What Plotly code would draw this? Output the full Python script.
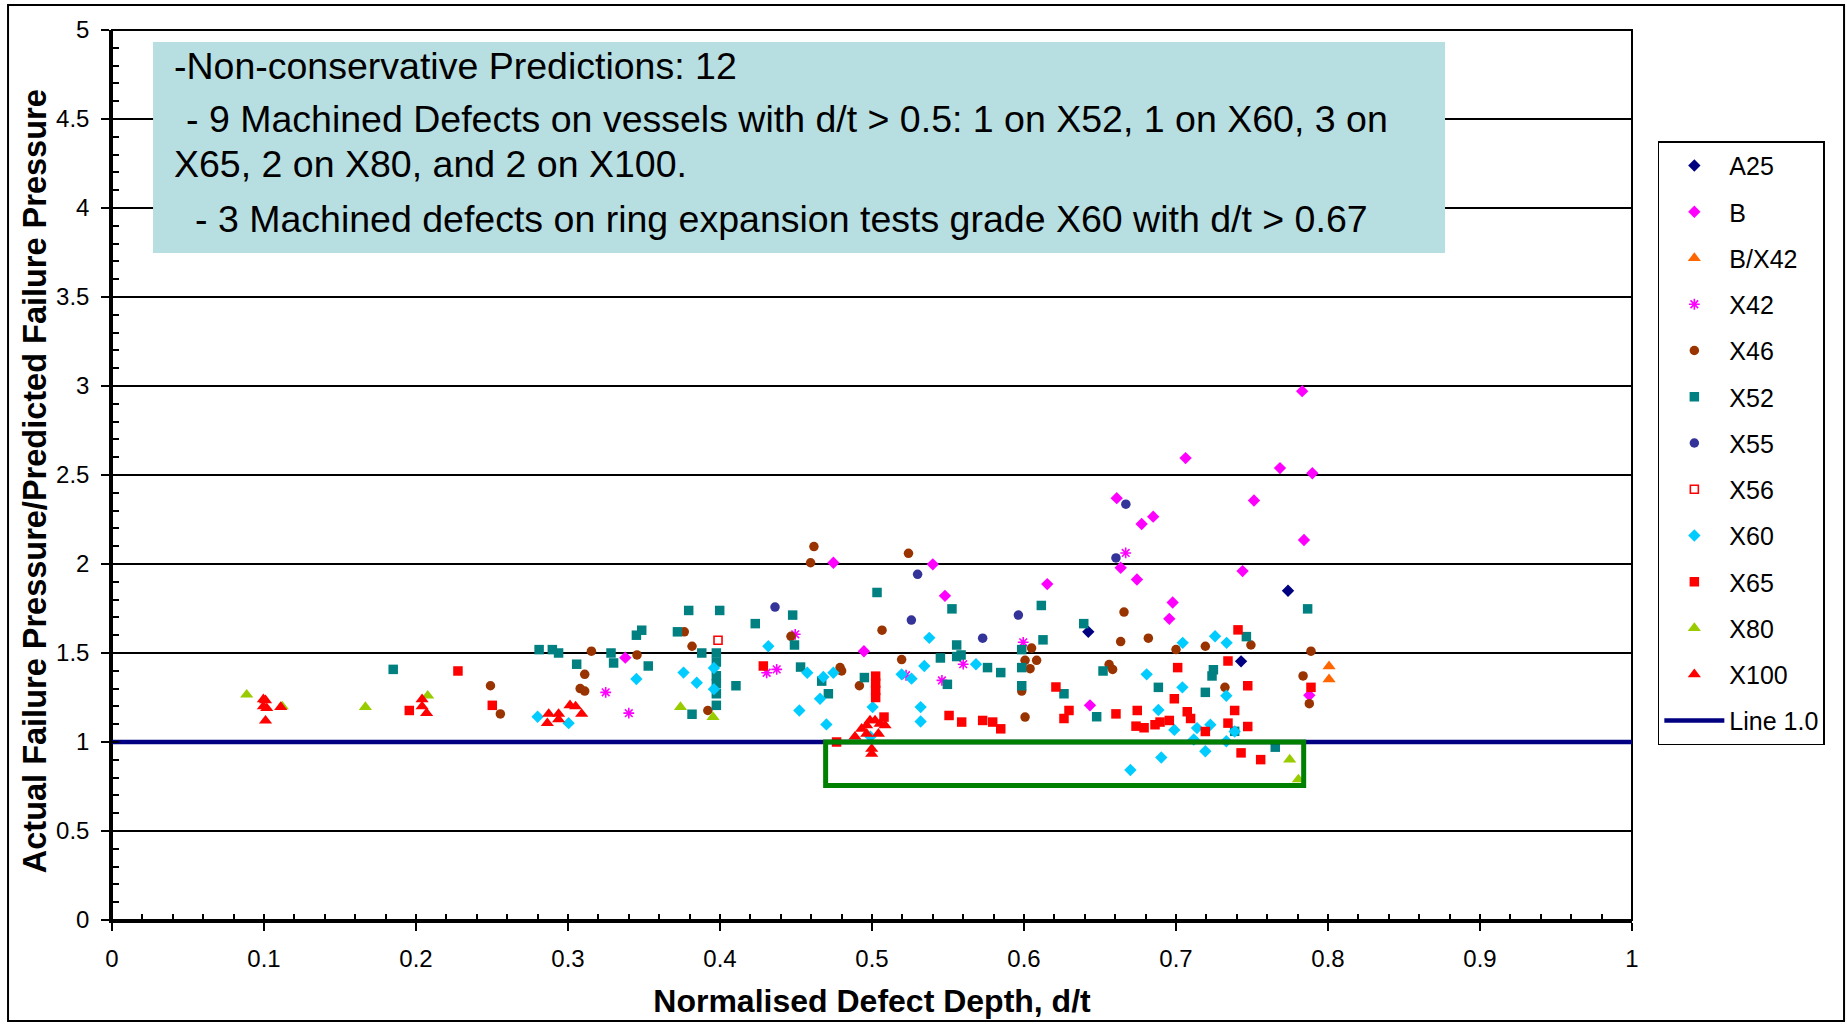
import plotly.graph_objects as go

# ---------------- data ----------------
a25_x = [0.6423, 0.7428, 0.7737]
a25_y = [1.619, 1.453, 1.850]

b_x = [0.3377, 0.4746, 0.4947, 0.540, 0.548, 0.6153, 0.6434, 0.661, 0.6636, 0.6743, 0.6774,
       0.685, 0.6956, 0.6978, 0.7063, 0.7438, 0.7513, 0.7684, 0.783, 0.7842, 0.7877, 0.7897]
b_y = [1.474, 2.007, 1.510, 1.998, 1.821, 1.887, 1.206, 2.370, 1.979, 1.913, 2.225,
       2.266, 1.692, 1.784, 2.595, 1.960, 2.357, 2.539, 2.971, 2.135, 1.262, 2.510]

bx42_x = [0.8007, 0.8007]
bx42_y = [1.425, 1.352]

x42_x = [0.3248, 0.340, 0.4307, 0.4373, 0.4495, 0.5224, 0.546, 0.560, 0.5995, 0.6669]
x42_y = [1.279, 1.162, 1.389, 1.408, 1.605, 1.375, 1.346, 1.437, 1.560, 2.062]

x46_x = [0.249, 0.2555, 0.308, 0.311, 0.311, 0.3154, 0.3454, 0.3765, 0.3816, 0.392, 0.4467,
         0.4596, 0.4618, 0.479, 0.480, 0.4917, 0.5066, 0.5195, 0.524, 0.5985, 0.6007, 0.6007,
         0.604, 0.605, 0.6083, 0.656, 0.6583, 0.6636, 0.6658, 0.6818, 0.700, 0.7193, 0.7322,
         0.7493, 0.7836, 0.7877, 0.7888]
x46_y = [1.316, 1.158, 1.300, 1.286, 1.380, 1.510, 1.489, 1.619, 1.538, 1.177, 1.594,
         2.007, 2.098, 1.418, 1.399, 1.316, 1.628, 1.463, 2.060, 1.286, 1.459, 1.140,
         1.412, 1.528, 1.459, 1.435, 1.408, 1.564, 1.730, 1.583, 1.519, 1.538, 1.307,
         1.545, 1.371, 1.215, 1.510]

x52_x = [0.185, 0.281, 0.2897, 0.2938, 0.3057, 0.3283, 0.330, 0.345, 0.3485, 0.3528, 0.372,
         0.3794, 0.3816, 0.388, 0.3976, 0.3976, 0.3976, 0.3976, 0.3976, 0.3976, 0.3998,
         0.4105, 0.4232, 0.4478, 0.449, 0.453, 0.4669, 0.4713, 0.495, 0.5033, 0.545, 0.5496,
         0.5526, 0.5557, 0.5557, 0.5586, 0.576, 0.5847, 0.5985, 0.5985, 0.5985, 0.6114,
         0.6125, 0.6263, 0.6393, 0.6478, 0.652, 0.6884, 0.7193, 0.7237, 0.7246, 0.7386,
         0.7463, 0.7653, 0.7866]
x52_y = [1.408, 1.519, 1.519, 1.500, 1.437, 1.500, 1.444, 1.600, 1.628, 1.427, 1.619,
         1.739, 1.156, 1.500, 1.500, 1.449, 1.372, 1.327, 1.271, 1.206, 1.739,
         1.316, 1.665, 1.713, 1.545, 1.421, 1.342, 1.271, 1.362, 1.840, 1.472, 1.324,
         1.748, 1.545, 1.480, 1.489, 1.418, 1.390, 1.519, 1.418, 1.316, 1.767,
         1.574, 1.271, 1.665, 1.142, 1.399, 1.307, 1.279, 1.371, 1.406, 1.060,
         1.592, 0.971, 1.748]

x55_x = [0.4362, 0.5259, 0.530, 0.5728, 0.5963, 0.6605, 0.667]
x55_y = [1.758, 1.685, 1.942, 1.583, 1.713, 2.034, 2.336]

x56_x = [0.3987]
x56_y = [1.572]

x60_x = [0.280, 0.3004, 0.345, 0.376, 0.3847, 0.396, 0.396, 0.4318, 0.4522, 0.4574, 0.4658,
         0.468, 0.470, 0.4746, 0.499, 0.5004, 0.5195, 0.526, 0.532, 0.532, 0.5344, 0.5377,
         0.5684, 0.670, 0.6807, 0.6884, 0.6903, 0.6989, 0.7042, 0.7044, 0.7117, 0.7138,
         0.7193, 0.7226, 0.7257, 0.7331, 0.7331, 0.7333, 0.7386]
x60_y = [1.142, 1.106, 1.354, 1.390, 1.333, 1.416, 1.297, 1.538, 1.177, 1.389, 1.243,
         1.365, 1.099, 1.389, 1.030, 1.196, 1.380, 1.356, 1.196, 1.115, 1.427, 1.585,
         1.437, 0.843, 1.380, 1.180, 0.913, 1.068, 1.307, 1.557, 1.014, 1.078,
         0.948, 1.097, 1.594, 1.260, 1.004, 1.557, 1.059]

x65_x = [0.1956, 0.2276, 0.2502, 0.4285, 0.4767, 0.5024, 0.5024, 0.5024, 0.5024, 0.5079,
         0.5507, 0.559, 0.5728, 0.5794, 0.5847, 0.621, 0.6263, 0.6296, 0.6605, 0.6737,
         0.6745, 0.679, 0.6862, 0.6895, 0.6956, 0.6989, 0.7011, 0.7074, 0.7096, 0.7193,
         0.7342, 0.7342, 0.7386, 0.7408, 0.7428, 0.7472, 0.7472, 0.7557, 0.7888]
x65_y = [1.177, 1.399, 1.206, 1.427, 1.000, 1.370, 1.330, 1.290, 1.250, 1.140,
         1.149, 1.112, 1.121, 1.112, 1.074, 1.309, 1.132, 1.177, 1.158, 1.089,
         1.177, 1.080, 1.097, 1.112, 1.121, 1.243, 1.418, 1.170, 1.132, 1.059,
         1.106, 1.455, 1.177, 1.630, 0.939, 1.316, 1.087, 0.901, 1.307]

x80_x = [0.0886, 0.112, 0.1667, 0.2077, 0.374, 0.3954, 0.7748, 0.7805]
x80_y = [1.266, 1.200, 1.196, 1.260, 1.196, 1.140, 0.901, 0.790]

x100_x = [0.0996, 0.101, 0.0996, 0.1018, 0.101, 0.111, 0.204, 0.204, 0.207, 0.2873, 0.2864,
          0.2938, 0.2938, 0.3013, 0.305, 0.309, 0.4888, 0.4932, 0.4965, 0.4965, 0.4987,
          0.502, 0.5042, 0.5053, 0.5086, 0.4998, 0.4998]
x100_y = [1.240, 1.234, 1.200, 1.190, 1.120, 1.196, 1.240, 1.200, 1.162, 1.158, 1.106,
          1.158, 1.127, 1.206, 1.200, 1.158, 1.030, 1.074, 1.093, 1.046, 1.121,
          1.121, 1.046, 1.102, 1.093, 0.961, 0.933]

line_x = [0, 1]
line_y = [1.0, 1.0]

x_range = [0, 1]
y_range = [0, 5]
box_x = [0.4695, 0.784]
box_y = [0.755, 1.0]
note_lines = [
    "-Non-conservative Predictions: 12",
    "- 9 Machined Defects on vessels with d/t > 0.5: 1 on X52, 1 on X60, 3 on",
    "X65, 2 on X80, and 2 on X100.",
    "- 3 Machined defects on ring expansion tests grade X60 with d/t > 0.67",
]
x_title = "Normalised Defect Depth, d/t"
y_title = "Actual Failure Pressure/Predicted Failure Pressure"

FONT = "Liberation Sans, Arial, sans-serif"

series = [
    ("A25", a25_x, a25_y, dict(symbol="diamond", color="#000080", size=9.5)),
    ("B", b_x, b_y, dict(symbol="diamond", color="#FF00FF", size=9.5)),
    ("B/X42", bx42_x, bx42_y, dict(symbol="triangle-up", color="#FF6600", size=11.5)),
    ("X42", x42_x, x42_y, dict(symbol="asterisk-open", color="#FF00FF", size=9,
                               line=dict(color="#FF00FF", width=1.6))),
    ("X46", x46_x, x46_y, dict(symbol="circle", color="#993300", size=9.5)),
    ("X52", x52_x, x52_y, dict(symbol="square", color="#008080", size=9.5)),
    ("X55", x55_x, x55_y, dict(symbol="circle", color="#333399", size=9.5)),
    ("X56", x56_x, x56_y, dict(symbol="square-open", color="#FF0000", size=8,
                               line=dict(color="#FF0000", width=1.6))),
    ("X60", x60_x, x60_y, dict(symbol="diamond", color="#00CCFF", size=9.5)),
    ("X65", x65_x, x65_y, dict(symbol="square", color="#FF0000", size=9.5)),
    ("X80", x80_x, x80_y, dict(symbol="triangle-up", color="#99CC00", size=11.5)),
    ("X100", x100_x, x100_y, dict(symbol="triangle-up", color="#FF0000", size=11.5)),
]

fig = go.Figure()
for name, xs, ys, mk in series:
    fig.add_trace(go.Scatter(x=xs, y=ys, mode="markers", name=name, legendgroup=name,
                             marker=mk, cliponaxis=False))
fig.add_trace(go.Scatter(x=line_x, y=line_y, mode="lines", name="Line 1.0",
                         legendgroup="Line 1.0",
                         line=dict(color="#000080", width=4.5)))

# green box highlighting non-conservative predictions
fig.add_shape(type="rect", xref="x", yref="y", x0=box_x[0], x1=box_x[1],
              y0=box_y[0], y1=box_y[1], line=dict(color="#008000", width=5),
              fillcolor="rgba(0,0,0,0)", layer="above")

# annotation box
fig.add_shape(type="rect", xref="paper", yref="paper", x0=0.027, x1=0.877,
              y0=0.7494, y1=0.9865, line=dict(width=0), fillcolor="#B7DEE0", layer="above")
note_pos = [(0.0395, 0.9596), (0.0475, 0.900), (0.0395, 0.8494), (0.053, 0.7876)]
for txt, (px, py) in zip(note_lines, note_pos):
    fig.add_annotation(x=px, y=py, xref="paper", yref="paper", text=txt, showarrow=False,
                       xanchor="left", yanchor="middle",
                       font=dict(family=FONT, size=37.5, color="black"))

# y-axis title
fig.add_annotation(x=-0.0505, y=0.4933, xref="paper", yref="paper",
                   text="<b>" + y_title + "</b>", textangle=-90, showarrow=False,
                   xanchor="center", yanchor="middle",
                   font=dict(family=FONT, size=32.5, color="black"))

# plot-area frame (top / right)
fig.add_shape(type="rect", xref="paper", yref="paper", x0=0, x1=1, y0=0, y1=1,
              line=dict(color="black", width=2), layer="below")
# outer chart frame
fig.add_shape(type="rect", xref="paper", yref="paper", x0=-0.0684, x1=1.1395,
              y0=-0.1135, y1=1.0281, line=dict(color="black", width=2), layer="above")

fig.update_layout(
    width=1847, height=1025,
    margin=dict(l=112, r=215, t=30, b=105),
    paper_bgcolor="white", plot_bgcolor="white",
    font=dict(family=FONT, color="black"),
    showlegend=True,
    legend=dict(x=1.017, xanchor="left", y=0.875, yanchor="top",
                bgcolor="white", bordercolor="black", borderwidth=1.5,
                font=dict(family=FONT, size=25, color="black"),
                tracegroupgap=10.75, itemwidth=60),
    xaxis=dict(range=x_range, dtick=0.1, tick0=0, showgrid=False, zeroline=False,
               showline=True, linecolor="black", linewidth=3,
               ticks="outside", ticklen=8, tickwidth=1.5, tickcolor="black",
               ticklabelstandoff=7,
               minor=dict(dtick=0.02, ticks="inside", ticklen=6, tickwidth=1.5,
                          tickcolor="black", showgrid=False),
               tickfont=dict(family=FONT, size=24, color="black"),
               title=dict(text="<b>" + x_title + "</b>",
                          font=dict(family=FONT, size=32, color="black"), standoff=19)),
    yaxis=dict(range=y_range, dtick=0.5, tick0=0, showgrid=True, gridcolor="black",
               gridwidth=1.5, zeroline=False,
               showline=True, linecolor="black", linewidth=2.5,
               ticks="outside", ticklen=8, tickwidth=1.5, tickcolor="black",
               ticklabelstandoff=7,
               minor=dict(dtick=0.1, ticks="inside", ticklen=7, tickwidth=1.5,
                          tickcolor="black", showgrid=False),
               tickfont=dict(family=FONT, size=24, color="black")),
)

fig.write_html("out.html")
